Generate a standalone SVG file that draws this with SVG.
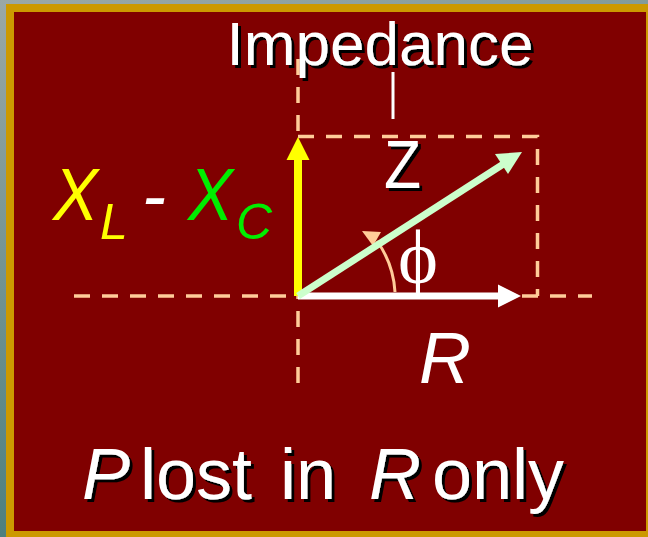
<svg xmlns="http://www.w3.org/2000/svg" width="648" height="537" viewBox="0 0 648 537">
<defs>
<linearGradient id="bg" x1="0" y1="0" x2="0.3" y2="1">
<stop offset="0" stop-color="#9aa8a6"/>
<stop offset="1" stop-color="#467c7c"/>
</linearGradient>
<filter id="sh" x="-10%" y="-10%" width="130%" height="130%">
<feOffset dx="3" dy="3" in="SourceAlpha" result="o"/>
<feFlood flood-color="#000"/>
<feComposite in2="o" operator="in" result="s"/>
<feMerge><feMergeNode in="s"/><feMergeNode in="SourceGraphic"/></feMerge>
</filter>
<style>
.dash{fill:none;stroke:#ffcc99;stroke-width:3.5;stroke-dasharray:16 12}
.t{font-family:"Liberation Sans",Arial,sans-serif;fill:#fff}
.i{font-style:italic}
.x{font-family:"Liberation Sans",Arial,sans-serif;font-style:italic}
</style>
</defs>
<rect width="648" height="537" fill="url(#bg)"/>
<rect x="6" y="4" width="642" height="533" fill="#cc9900"/>
<rect x="14" y="12" width="632" height="519" fill="#800000"/>

<g id="guides">
<line class="dash" x1="74" y1="296" x2="592" y2="296"/>
<line class="dash" x1="298" y1="383" x2="298" y2="57"/>
<path class="dash" d="M298,136.5 H537.5 V296"/>
</g>

<g id="connectors">
<g id="arc">
<path d="M395,292 A97,97 0 0 0 377,241" fill="none" stroke="#ffcc99" stroke-width="3"/>
<polygon points="362,231 381,232 373,246" fill="#ffcc99"/>
</g>
<g id="xarrow">
<line x1="298" y1="296" x2="298" y2="158" stroke="#ffff00" stroke-width="8"/>
<polygon points="298,137 286.5,160 309.5,160" fill="#ffff00"/>
</g>
<g id="rarrow">
<line x1="298" y1="296" x2="500" y2="296" stroke="#fff" stroke-width="7"/>
<polygon points="521,296 498,284.5 498,307.5" fill="#fff"/>
</g>
<g id="zarrow">
<line x1="298" y1="296" x2="505" y2="163" stroke="#ccffcc" stroke-width="7"/>
<polygon points="522,152 495,154 508,174" fill="#ccffcc"/>
</g>
<line x1="393" y1="72" x2="393" y2="119" stroke="#fff" stroke-width="3"/>
</g>

<g id="impedance">
<text class="t" x="380" y="65" font-size="62" text-anchor="middle" filter="url(#sh)">Impedance</text>
</g>
<g id="z">
<text class="t" x="402.5" y="188" font-size="68" text-anchor="middle" textLength="37" lengthAdjust="spacingAndGlyphs" filter="url(#sh)">Z</text>
</g>
<g id="phi">
<text x="418" y="283" font-family="'Liberation Serif','Times New Roman',serif" font-size="76" fill="#fff" text-anchor="middle">ϕ</text>
</g>
<g id="r">
<text class="t i" x="419" y="383" font-size="72">R</text>
</g>
<g id="xlxc">
<text class="x" x="53" y="220" font-size="74" textLength="45" lengthAdjust="spacingAndGlyphs" fill="#ffff00">X</text>
<text class="x" x="100" y="239" font-size="50" fill="#ffff00">L</text>
<text class="x" x="142" y="220" font-size="72" fill="#fff">-</text>
<text class="x" x="188" y="220" font-size="74" textLength="45" lengthAdjust="spacingAndGlyphs" fill="#00ee00">X</text>
<text class="x" x="236" y="239" font-size="50" fill="#00ee00">C</text>
</g>
<g id="caption">
<text class="t" y="499" font-size="72" filter="url(#sh)"><tspan class="i" x="82">P</tspan><tspan x="140">lost</tspan><tspan x="280">in</tspan><tspan class="i" x="369">R</tspan><tspan x="432">only</tspan></text>
</g>
</svg>
